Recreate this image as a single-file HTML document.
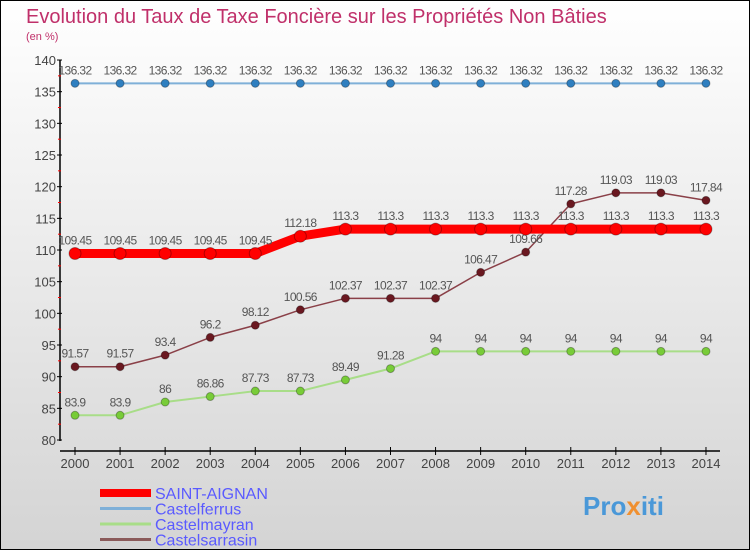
<!DOCTYPE html>
<html><head><meta charset="utf-8"><style>
body{margin:0}
#c{width:750px;height:550px;position:relative;overflow:hidden;box-sizing:border-box;border:1px solid #000;background:linear-gradient(#ffffff,#d4d4d4);font-family:"Liberation Sans",sans-serif}
</style></head><body>
<div id="c">
<svg id="s" width="750" height="550" style="position:absolute;left:-1px;top:-1px;font-family:'Liberation Sans',sans-serif">
<text x="26" y="23" font-size="20" fill="#c0306a">Evolution du Taux de Taxe Foncière sur les Propriétés Non Bâties</text>
<text x="26" y="40" font-size="11" fill="#c0306a">(en %)</text>
<g id="axes"></g><g id="series"></g><g id="legend"></g>
<text x="583" y="515" font-size="26" font-weight="bold" fill="#4a98d8">Pro<tspan fill="#f09030">x</tspan>iti</text>
</svg>
</div>
<script>
const years=[2000,2001,2002,2003,2004,2005,2006,2007,2008,2009,2010,2011,2012,2013,2014];
const yTicks=[80,85,90,95,100,105,110,115,120,125,130,135,140];
const saint=[109.45,109.45,109.45,109.45,109.45,112.18,113.3,113.3,113.3,113.3,113.3,113.3,113.3,113.3,113.3];
const ferrus=[136.32,136.32,136.32,136.32,136.32,136.32,136.32,136.32,136.32,136.32,136.32,136.32,136.32,136.32,136.32];
const mayran=[83.9,83.9,86,86.86,87.73,87.73,89.49,91.28,94,94,94,94,94,94,94];
const sarrasin=[91.57,91.57,93.4,96.2,98.12,100.56,102.37,102.37,102.37,106.47,109.66,117.28,119.03,119.03,117.84];
const NS="http://www.w3.org/2000/svg";
const X=i=>75+i*45.07, Y=v=>440-(v-80)*6.333;
function mk(t,a,p){const e=document.createElementNS(NS,t);for(const k in a)e.setAttribute(k,a[k]);p.appendChild(e);return e;}
const ax=document.getElementById('axes');
let yl=mk('line',{x1:60,y1:60,x2:60,y2:441,stroke:'#000','stroke-width':1.5},ax);

let xl=mk('line',{x1:60,y1:451,x2:720,y2:451,stroke:'#000','stroke-width':1.5},ax);

yTicks.forEach((v,i)=>{mk('line',{x1:57,y1:Y(v),x2:62,y2:Y(v),stroke:'#000'},ax);
 const t=mk('text',{x:56,y:Y(v)+5,'font-size':13,fill:'#444','text-anchor':'end'},ax);t.textContent=v;
 
 if(i<yTicks.length-1)mk('line',{x1:58,y1:Y(v+2.5),x2:61,y2:Y(v+2.5),stroke:'#f00'},ax);});
years.forEach((y,i)=>{mk('line',{x1:X(i),y1:447,x2:X(i),y2:455,stroke:'#000'},ax);
 const t=mk('text',{x:X(i),y:468,'font-size':13,fill:'#444','text-anchor':'middle'},ax);t.textContent=y;
 });
const sg=document.getElementById('series');
function series(data,color,dot,w,r,name){
 const g=mk('g',{},sg);
 mk('polyline',{points:data.map((v,i)=>X(i)+','+Y(v)).join(' '),fill:'none',stroke:color,'stroke-width':w,'stroke-linejoin':'round'},g);
 data.forEach((v,i)=>{const c=mk('circle',{cx:X(i),cy:Y(v),r:r,fill:dot,stroke:'rgba(0,0,0,0.3)'},g);
  
  const t=mk('text',{x:X(i),y:Y(v)-9,'font-size':12,fill:'#555','text-anchor':'middle','letter-spacing':'-0.6'},g);t.textContent=v;
  });
}
series(ferrus,'#7fb0d8','#2f7fc0',2,4,'castelferrus-series');
series(mayran,'#a8dd88','#78cc38',2,4,'castelmayran-series');
series(sarrasin,'#8a4048','#6a1820',1.5,4,'castelsarrasin-series');
series(saint,'#ff0000','#ff0000',9,6,'saint-aignan-series');
const lg=document.getElementById('legend');
[['SAINT-AIGNAN','#ff0000',8],['Castelferrus','#7fb0d8',3],['Castelmayran','#a8dd88',3],['Castelsarrasin','#8a5a5a',3]].forEach((d,i)=>{
 const y=493+i*15.5;
 const g=mk('g',{},lg);
 mk('line',{x1:100,y1:y,x2:151,y2:y,stroke:d[1],'stroke-width':d[2]},g);
 const t=mk('text',{x:155,y:y+6,'font-size':16,fill:'#5a5aff'},g);t.textContent=d[0];});
</script>
</body></html>
